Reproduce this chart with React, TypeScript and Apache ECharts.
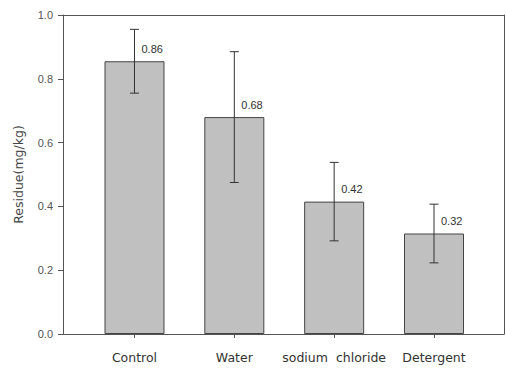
import React, { useEffect, useRef } from "react";
import * as echarts from "echarts";

const categories = ["Control", "Water", "sodium  chloride", "Detergent"];
const means = [0.855, 0.68, 0.415, 0.315];
const errors = [0.1, 0.205, 0.123, 0.092];
const valueLabels = ["0.86", "0.68", "0.42", "0.32"];

export default function App() {
  const ref = useRef<HTMLDivElement>(null);
  useEffect(() => {
    document.body.style.margin = "0";
    const chart = echarts.init(ref.current!, null, { renderer: "svg" });
    const axisColor = "#555";
    const option: any = {
      animation: false,
      backgroundColor: "#fff",
      grid: { left: 63, top: 15, right: 2, bottom: 35 },
      xAxis: [
        {
          type: "value",
          min: -0.716,
          max: 3.701,
          splitLine: { show: false },
          axisLine: { show: true, onZero: false, lineStyle: { color: axisColor, width: 1 } },
          axisTick: {
            show: true,
            customValues: [0, 1, 2, 3],
            length: 4,
            lineStyle: { color: axisColor },
          },
          axisLabel: {
            customValues: [0, 1, 2, 3],
            formatter: (v: number) => categories[Math.round(v)] ?? "",
            color: "#333",
            fontFamily: "DejaVu Sans",
            fontSize: 12.5,
            margin: 17,
          },
        },
        {
          type: "value",
          position: "top",
          min: -0.716,
          max: 3.701,
          splitLine: { show: false },
          axisLine: { show: true, onZero: false, lineStyle: { color: axisColor, width: 1 } },
          axisTick: { show: false },
          axisLabel: { show: false },
        },
      ],
      yAxis: [
        {
          type: "value",
          min: 0,
          max: 1,
          interval: 0.2,
          name: "Residue(mg/kg)",
          nameLocation: "middle",
          nameGap: 38,
          nameTextStyle: { color: "#444", fontFamily: "DejaVu Sans", fontSize: 12.5 },
          splitLine: { show: false },
          axisLine: { show: true, onZero: false, lineStyle: { color: axisColor, width: 1 } },
          axisTick: { show: true, length: 5, lineStyle: { color: axisColor } },
          axisLabel: {
            formatter: (v: number) => v.toFixed(1),
            color: "#555",
            fontFamily: "Liberation Sans",
            fontSize: 11,
            margin: 10,
          },
        },
        {
          type: "value",
          position: "right",
          min: 0,
          max: 1,
          splitLine: { show: false },
          axisLine: { show: true, onZero: false, lineStyle: { color: axisColor, width: 1 } },
          axisTick: { show: false },
          axisLabel: { show: false },
        },
      ],
      series: [
        {
          type: "bar",
          xAxisIndex: 0,
          yAxisIndex: 0,
          barWidth: 60,
          z: 2,
          data: means.map((m, i) => [i, m]),
          itemStyle: { color: "#c0c0c0", borderColor: "#444", borderWidth: 1 },
        },
        {
          type: "custom",
          xAxisIndex: 0,
          yAxisIndex: 0,
          z: 10,
          clip: false,
          data: means.map((m, i) => [i, m, errors[i]]),
          renderItem: (params: any, api: any) => {
            const x = api.value(0);
            const y = api.value(1);
            const e = api.value(2);
            const top = api.coord([x, y + e]);
            const bot = api.coord([x, y - e]);
            const mid = api.coord([x, y]);
            const cap = 4.5;
            const style = { stroke: "#333", lineWidth: 1 };
            return {
              type: "group",
              children: [
                { type: "line", shape: { x1: top[0], y1: top[1], x2: bot[0], y2: bot[1] }, style },
                { type: "line", shape: { x1: top[0] - cap, y1: top[1], x2: top[0] + cap, y2: top[1] }, style },
                { type: "line", shape: { x1: bot[0] - cap, y1: bot[1], x2: bot[0] + cap, y2: bot[1] }, style },
                {
                  type: "text",
                  style: {
                    x: mid[0] + 7,
                    y: mid[1] - 7,
                    text: valueLabels[params.dataIndex],
                    fill: "#333",
                    font: "11px 'Liberation Sans'",
                    textAlign: "left",
                    textVerticalAlign: "bottom",
                  },
                },
              ],
            };
          },
        },
      ],
    };
    chart.setOption(option);
    return () => chart.dispose();
  }, []);
  return (
    <div
      ref={ref}
      style={{ position: "fixed", left: 0, top: 0, width: 506, height: 369 }}
    />
  );
}
